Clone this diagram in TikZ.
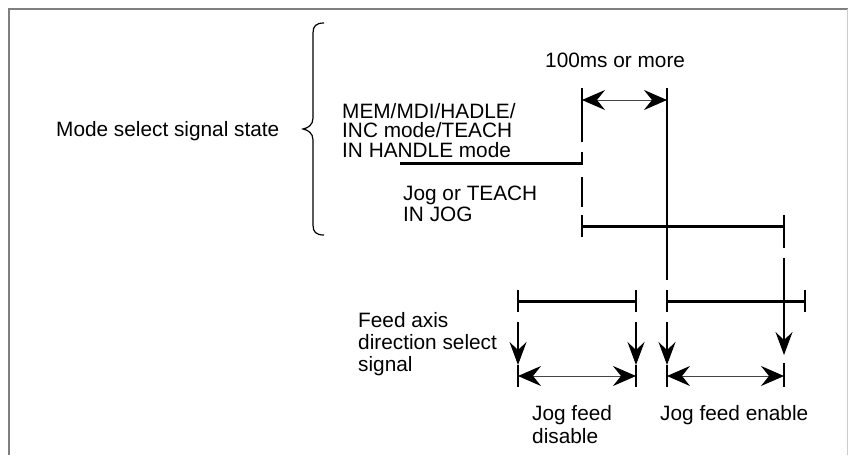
\documentclass[tikz,border=0pt]{standalone}
\usepackage{fontspec}
\setmainfont{Liberation Sans}
\usetikzlibrary{arrows.meta}
\definecolor{framedark}{HTML}{7F7F7F}
\definecolor{framelight}{HTML}{CCCCCC}
\definecolor{shaft}{HTML}{444444}
\tikzset{
  txt/.style={inner sep=0pt, anchor=base west, align=left, font=\fontsize{20.8}{21}\selectfont},
  sig/.style={line width=3pt, line cap=butt},
  thin/.style={line width=1.2pt},
  varrow/.style={thin, -{Stealth[length=23pt, width=17pt, inset=8pt]}},
  darrow/.style={line width=1pt, draw=shaft, {Stealth[length=23pt, width=20pt, inset=8pt, color=black, fill=black]}-{Stealth[length=23pt, width=20pt, inset=8pt, color=black, fill=black]}}
}
\begin{document}
\begin{tikzpicture}[x=1pt, y=-1pt]
\useasboundingbox (0,0) rectangle (848,455);
% frame
\draw[framedark, line width=2pt] (9,455) -- (9,9) -- (848,9);
\draw[framelight, line width=1pt] (847,9) -- (847,455);

% texts (multi-line nodes: base anchor = last line's baseline)
\node[txt] (t100) at (545,67) {100ms or more};
\node[txt] (tmode) at (56,136.5) {Mode select signal state};
\node[txt, font=\fontsize{20.8}{19.7}\selectfont] (tmem) at (342,157.6) {MEM/MDI/HADLE/\\INC mode/TEACH\\IN HANDLE mode};
\node[txt, font=\fontsize{20.8}{21.7}\selectfont] (tjog) at (403,221.7) {Jog or TEACH\\IN JOG};
\node[txt, font=\fontsize{20.8}{22}\selectfont] (tfeed) at (358,371.3) {Feed axis\\direction select\\signal};
\node[txt, font=\fontsize{20.8}{23}\selectfont] (tdis) at (532,443) {Jog feed\\disable};
\node[txt] (ten) at (660,420) {Jog feed enable};

% brace
\draw[thin] (324,23) .. controls (316,23) and (313,26) .. (313,33) -- (313,118)
  .. controls (313,125) and (308,128) .. (303,129)
  .. controls (308,130) and (313,133) .. (313,140) -- (313,225)
  .. controls (313,232) and (316,235) .. (324,235);

% dashed line x=582
\draw[thin] (582,88) -- (582,142);
\draw[thin] (582,152) -- (582,165);
\draw[thin] (582,177) -- (582,207);
\draw[thin] (582,215) -- (582,237);
% solid line x=667
\draw[thin] (667,88) -- (667,280);
\draw[thin] (667,290) -- (667,312);
\draw[varrow] (667,322) -- (667,365);
\draw[thin] (667,365) -- (667,387);
% x=518
\draw[thin] (518,290) -- (518,312);
\draw[varrow] (518,322) -- (518,365);
\draw[thin] (518,365) -- (518,387);
% x=636
\draw[thin] (636,290) -- (636,312);
\draw[varrow] (636,322) -- (636,365);
\draw[thin] (636,365) -- (636,387);
% x=784
\draw[thin] (784,215) -- (784,248);
\draw[varrow] (784,258) -- (784,355);
\draw[thin] (784,363) -- (784,387);
% x=805 tick
\draw[thin] (805,290) -- (805,312);

% signal bars
\draw[sig] (400,163.3) -- (582,163.3);
\draw[sig] (582,226.7) -- (784,226.7);
\draw[sig] (518,301.5) -- (636,301.5);
\draw[sig] (667,301.5) -- (805,301.5);

% dimension arrows
\draw[darrow] (582,100) -- (667,100);
\draw[darrow] (518,376) -- (636,376);
\draw[darrow] (667,376) -- (784,376);
\end{tikzpicture}
\end{document}
